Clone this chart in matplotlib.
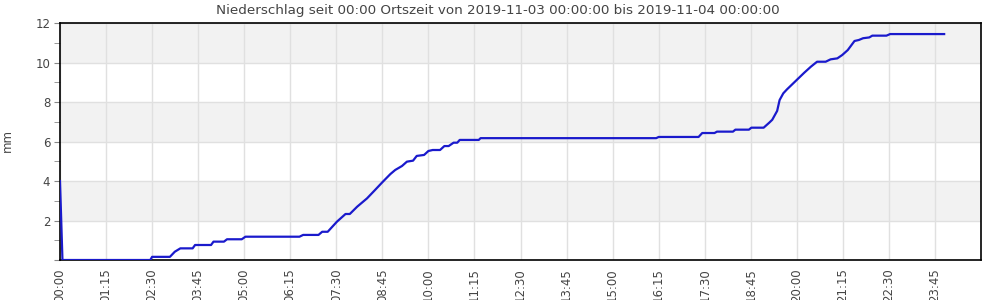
import matplotlib
matplotlib.use("Agg")
from matplotlib import pyplot as plt
import numpy as np

# Zeitpunkte (HH:MM) und kumulierter Niederschlag in mm
times = ["00:00", "00:04", "02:27", "02:30", "02:59", "03:07", "03:16", "03:36", "03:40",
         "04:06", "04:10", "04:27", "04:32", "04:56", "05:02", "06:30", "06:36",
         "07:01", "07:07", "07:16", "07:31", "07:45", "07:52", "08:04", "08:20",
         "08:32", "08:46", "08:58", "09:06", "09:17", "09:25", "09:35", "09:41",
         "09:53", "10:00", "10:07", "10:19", "10:26", "10:33", "10:41", "10:47",
         "10:51", "11:22", "11:25", "16:11", "16:15", "17:20", "17:26", "17:46",
         "17:50", "18:16", "18:20", "18:42", "18:46", "19:06", "19:15", "19:20",
         "19:28", "19:32", "19:38", "19:44", "19:54", "20:01", "20:12", "20:23",
         "20:33", "20:47", "20:55", "21:06", "21:14", "21:23", "21:34", "21:41",
         "21:48", "21:58", "22:03", "22:26", "22:32", "24:00"]
precip = [4.0, 0.0, 0.0, 0.16, 0.16, 0.42, 0.59, 0.59, 0.76,
          0.76, 0.93, 0.93, 1.05, 1.05, 1.18, 1.18, 1.27,
          1.27, 1.43, 1.43, 1.94, 2.33, 2.33, 2.70, 3.12,
          3.51, 3.97, 4.35, 4.56, 4.76, 4.98, 5.03, 5.27,
          5.32, 5.52, 5.57, 5.57, 5.77, 5.77, 5.94, 5.94,
          6.08, 6.08, 6.17, 6.17, 6.23, 6.23, 6.43, 6.43,
          6.50, 6.50, 6.60, 6.60, 6.70, 6.70, 6.95, 7.10,
          7.55, 8.10, 8.44, 8.64, 8.94, 9.15, 9.48, 9.79,
          10.04, 10.04, 10.16, 10.21, 10.38, 10.63, 11.09, 11.14,
          11.23, 11.27, 11.36, 11.36, 11.44, 11.44]

tick_labels = ["00:00", "01:15", "02:30", "03:45", "05:00", "06:15", "07:30", "08:45",
               "10:00", "11:15", "12:30", "13:45", "15:00", "16:15", "17:30", "18:45",
               "20:00", "21:15", "22:30", "23:45"]

def to_min(s):
    h, m = s.split(":")
    return int(h) * 60 + int(m)

x = np.array([to_min(t) for t in times])
y = np.array(precip)
xt = [to_min(t) for t in tick_labels]

txt = "#444444"
fig = plt.figure(figsize=(10, 3), dpi=100)
ax = fig.add_axes([0.06, 0.1333, 0.921, 0.79])

# abwechselnde Hintergrundbaender
for lo in range(2, 12, 4):
    ax.axhspan(lo, lo + 2, color="#f2f2f2", zorder=0, lw=0)

ax.plot(x, y, color="#1a1acc", lw=1.6, zorder=3)

ax.set_xlim(0, 1500)
ax.set_ylim(0, 12)
ax.set_xticks(xt)
ax.set_xticklabels(tick_labels, rotation=90, fontsize=8.5, color=txt)
ax.set_yticks(range(0, 13, 2))
ax.set_yticklabels([""] + [str(v) for v in range(2, 13, 2)], fontsize=8.5, color=txt)
ax.set_yticks(range(1, 12, 2), minor=True)
ax.grid(True, color="#e0e0e0", lw=1, zorder=1)
ax.set_axisbelow(True)
ax.tick_params(axis="y", which="both", length=4, color="#888888", pad=3)
ax.tick_params(axis="x", length=0, pad=6)
for s in ax.spines.values():
    s.set_color("black")
    s.set_linewidth(1.2)

fig.text(0.0075, 0.533, "mm", rotation=90, ha="center", va="center",
         fontsize=8.5, color=txt)
fig.text(0.4975, 0.965, "Niederschlag seit 00:00 Ortszeit von 2019-11-03 00:00:00 bis 2019-11-04 00:00:00",
         ha="center", va="center", fontsize=9.7, color=txt)

fig.savefig("out.png", dpi=100)
